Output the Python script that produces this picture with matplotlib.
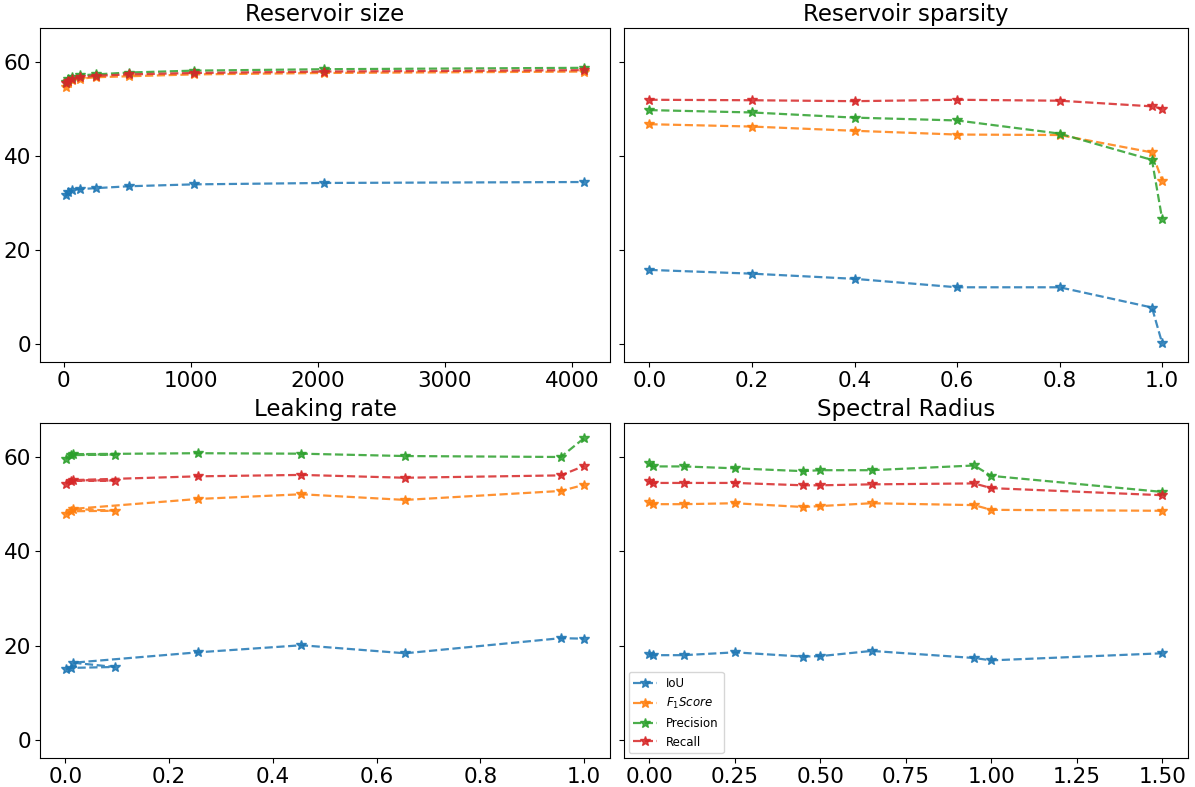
import matplotlib
matplotlib.use("Agg")
import matplotlib.pyplot as plt

labels = ["IoU", "$F_1 Score$", "Precision", "Recall"]
colors = ["#1f77b4", "#ff7f0e", "#2ca02c", "#d62728"]

# Reservoir size
size_x = [16, 32, 64, 128, 256, 512, 1024, 2048, 4096]
size_iou = [31.8, 32.4, 32.8, 33.0, 33.2, 33.6, 34.0, 34.3, 34.5]
size_f1 = [54.8, 55.6, 56.2, 56.5, 56.8, 57.0, 57.4, 57.7, 58.0]
size_prec = [55.8, 56.4, 56.8, 57.2, 57.4, 57.8, 58.2, 58.5, 58.8]
size_rec = [55.5, 56.0, 56.4, 56.8, 57.1, 57.4, 57.7, 58.0, 58.3]

# Reservoir sparsity
sp_x = [0.0, 0.2, 0.4, 0.6, 0.8, 0.98, 1.0]
sp_iou = [15.8, 15.0, 13.9, 12.1, 12.1, 7.8, 0.2]
sp_f1 = [46.8, 46.3, 45.4, 44.6, 44.5, 40.8, 34.8]
sp_prec = [49.8, 49.3, 48.2, 47.6, 44.8, 39.2, 26.6]
sp_rec = [52.0, 51.9, 51.7, 52.0, 51.8, 50.6, 50.1]

# Leaking rate
lr_x = [0.001, 0.01, 0.095, 0.015, 0.255, 0.455, 0.655, 0.955, 1.0]
lr_iou = [15.0, 15.3, 15.5, 16.4, 18.6, 20.1, 18.4, 21.6, 21.5]
lr_f1 = [47.9, 48.5, 48.6, 49.0, 51.1, 52.1, 50.9, 52.8, 54.1]
lr_prec = [59.6, 60.4, 60.5, 60.6, 60.8, 60.7, 60.2, 60.0, 64.0]
lr_rec = [54.3, 55.0, 55.0, 55.1, 55.9, 56.2, 55.6, 56.1, 58.1]

# Spectral radius
sr_x = [0.0, 0.01, 0.1, 0.25, 0.45, 0.5, 0.65, 0.95, 1.0, 1.5]
sr_iou = [18.2, 18.0, 18.0, 18.6, 17.7, 17.8, 18.9, 17.4, 16.9, 18.4]
sr_f1 = [50.4, 50.0, 50.0, 50.2, 49.4, 49.6, 50.2, 49.8, 48.8, 48.6]
sr_prec = [58.8, 58.0, 58.0, 57.6, 57.0, 57.2, 57.2, 58.2, 56.0, 52.6]
sr_rec = [55.0, 54.5, 54.5, 54.5, 54.0, 54.0, 54.2, 54.4, 53.4, 51.9]

titles = ["Reservoir size", "Reservoir sparsity", "Leaking rate", "Spectral Radius"]
xticks = [
    [0, 1000, 2000, 3000, 4000],
    [0.0, 0.2, 0.4, 0.6, 0.8, 1.0],
    [0.0, 0.2, 0.4, 0.6, 0.8, 1.0],
    [0.0, 0.25, 0.5, 0.75, 1.0, 1.25, 1.5],
]
xticklabels = [
    ["0", "1000", "2000", "3000", "4000"],
    ["0.0", "0.2", "0.4", "0.6", "0.8", "1.0"],
    ["0.0", "0.2", "0.4", "0.6", "0.8", "1.0"],
    ["0.00", "0.25", "0.50", "0.75", "1.00", "1.25", "1.50"],
]
panels = [
    (size_x, [size_iou, size_f1, size_prec, size_rec]),
    (sp_x, [sp_iou, sp_f1, sp_prec, sp_rec]),
    (lr_x, [lr_iou, lr_f1, lr_prec, lr_rec]),
    (sr_x, [sr_iou, sr_f1, sr_prec, sr_rec]),
]

fig = plt.figure(figsize=(11.95, 7.87), dpi=100)
positions = [
    [0.0335, 0.540, 0.477, 0.424],
    [0.522, 0.540, 0.472, 0.424],
    [0.0335, 0.0368, 0.477, 0.4257],
    [0.522, 0.0368, 0.472, 0.4257],
]
axes = []
for i, pos in enumerate(positions):
    ax = fig.add_axes(pos)
    axes.append(ax)
    x, series = panels[i]
    for s, lab, c in zip(series, labels, colors):
        ax.plot(x, s, linestyle="--", marker="*", color=c, label=lab,
                markersize=7, linewidth=1.6, alpha=0.85)
    ax.set_title(titles[i], fontsize=16.5, pad=5)
    ax.set_ylim(-3.8, 67.2)
    ax.set_yticks([0, 20, 40, 60])
    ax.set_xticks(xticks[i])
    ax.set_xticklabels(xticklabels[i])
    ax.tick_params(labelsize=15.5, pad=3)
    if i % 2 == 1:
        ax.set_yticklabels([])

axes[3].legend(loc="lower left", fontsize=8.5, borderaxespad=0.4)
fig.savefig("out.png", dpi=100)
